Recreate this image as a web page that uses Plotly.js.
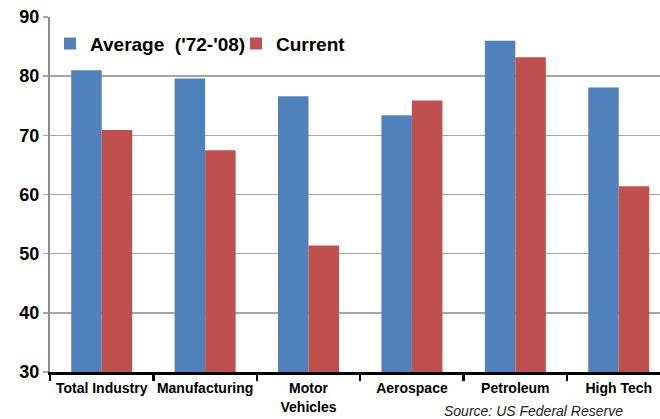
<!DOCTYPE html>
<html>
<head>
<meta charset="utf-8">
<script src="https://cdn.plot.ly/plotly-3.0.1.min.js"></script>
<style>
  html, body { margin: 0; padding: 0; background: #ffffff; overflow: hidden; }
  #chart { width: 660px; height: 419px; }
</style>
</head>
<body>
<div id="chart"></div>
<script>
// Capacity utilization by industry: long-run average vs current reading
var industries = ['Total Industry', 'Manufacturing', 'Motor<br>Vehicles', 'Aerospace', 'Petroleum', 'High Tech'];
var averageValues = [81.0, 79.6, 76.6, 73.4, 86.0, 78.1];
var currentValues = [70.9, 67.5, 51.4, 75.9, 83.2, 61.4];
var yTickValues = [30, 40, 50, 60, 70, 80, 90];

var FONT = 'Liberation Sans, Arial, Helvetica, sans-serif';

var traces = [
  {
    type: 'bar',
    name: "Average\u00a0 ('72-'08)",
    x: industries,
    y: averageValues,
    marker: { color: '#4F81BD' },
    hoverinfo: 'x+y'
  },
  {
    type: 'bar',
    name: 'Current',
    x: industries,
    y: currentValues,
    marker: { color: '#C0504D' },
    hoverinfo: 'x+y'
  }
];

var layout = {
  width: 660,
  height: 419,
  margin: { l: 49.5, r: 0, t: 16.5, b: 47.3, pad: 0 },
  paper_bgcolor: '#ffffff',
  plot_bgcolor: '#ffffff',
  barmode: 'group',
  bargap: 0.41,
  bargroupgap: 0,
  showlegend: true,
  legend: {
    orientation: 'h',
    x: 0.0,
    xanchor: 'left',
    y: 0.925,
    yanchor: 'middle',
    bgcolor: 'rgba(0,0,0,0)',
    font: { family: FONT, size: 19, color: '#000000', weight: 'bold' },
    itemwidth: 30,
    entrywidth: 141,
    entrywidthmode: 'pixels'
  },
  xaxis: {
    type: 'category',
    range: [-0.5, 5.399],
    tickson: 'boundaries',
    tickangle: 0,
    ticklabelstandoff: 2,
    showgrid: false,
    showline: true,
    linecolor: '#000000',
    linewidth: 2.5,
    ticks: 'outside',
    ticklen: 6,
    tickwidth: 2.5,
    tickcolor: '#000000',
    tickfont: { family: FONT, size: 14, color: '#000000', weight: 'bold' },
    fixedrange: true
  },
  yaxis: {
    range: [30, 90],
    tickvals: yTickValues,
    ticktext: yTickValues.map(String),
    showgrid: true,
    gridcolor: '#a6a6a6',
    gridwidth: 1.5,
    zeroline: false,
    showline: true,
    linecolor: '#8c8c8c',
    linewidth: 2,
    ticks: 'outside',
    ticklen: 5,
    tickwidth: 1.5,
    tickcolor: '#a6a6a6',
    tickfont: { family: FONT, size: 18, color: '#000000', weight: 'bold' },
    fixedrange: true
  },
  annotations: [
    {
      text: 'Source: US Federal Reserve',
      xref: 'paper',
      yref: 'paper',
      x: 0.9427,
      xanchor: 'right',
      y: -0.109,
      yanchor: 'middle',
      showarrow: false,
      font: { family: FONT, size: 14, color: '#222222', style: 'italic' }
    }
  ]
};

Plotly.newPlot('chart', traces, layout, { displayModeBar: false, staticPlot: true });
</script>
</body>
</html>
